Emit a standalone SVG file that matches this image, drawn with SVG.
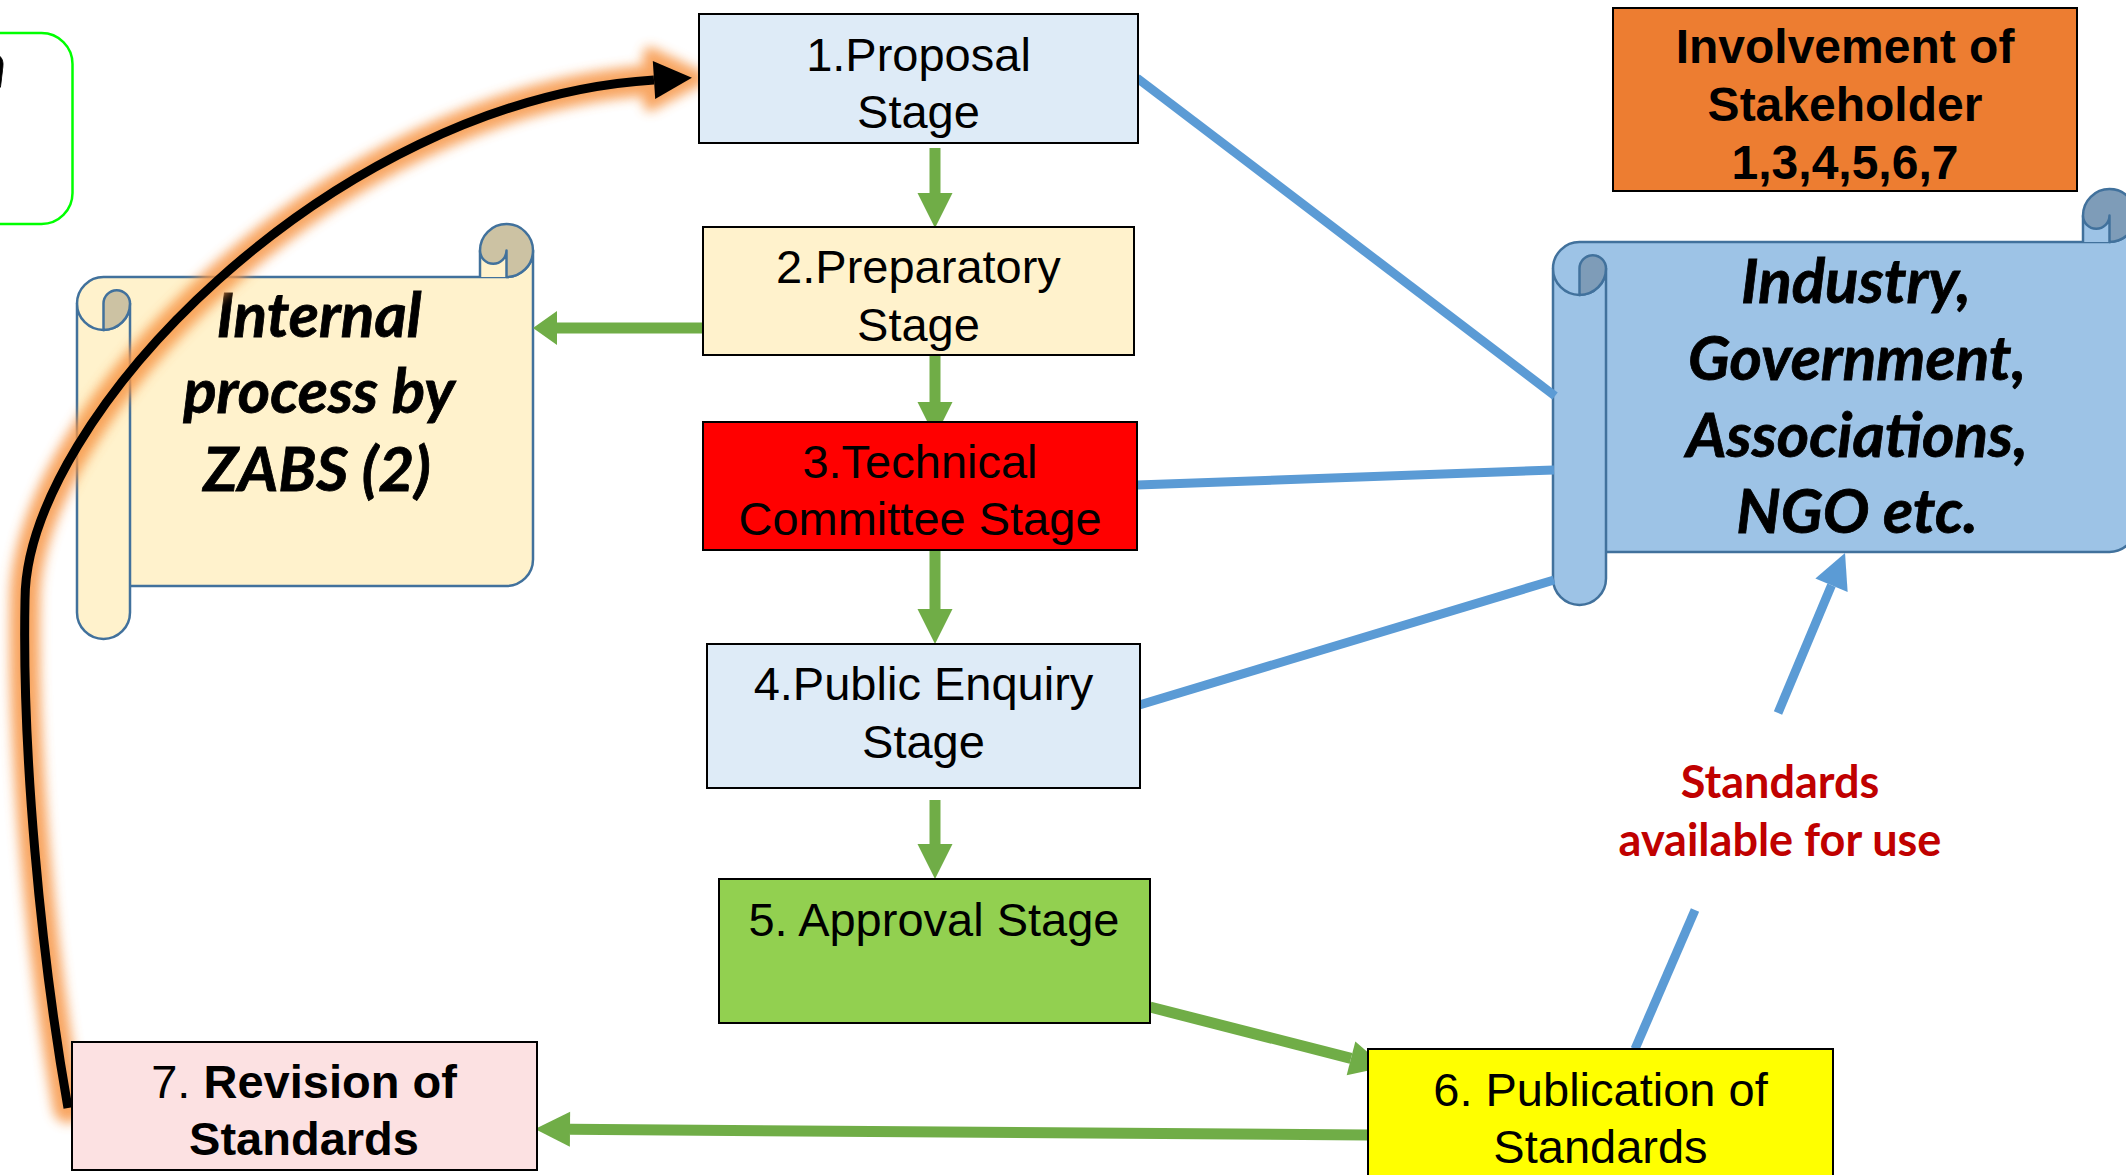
<svg xmlns="http://www.w3.org/2000/svg" xmlns:xlink="http://www.w3.org/1999/xlink" width="2126" height="1175" viewBox="0 0 2126 1175">
  <defs>
    <style>
      .stage { stroke: #000; stroke-width: 2; }
      .stage-text { font-family: "Liberation Sans", Arial, sans-serif; font-size: 47px; fill: #000; text-anchor: middle; }
      .bold { font-weight: bold; }
      .box-text { font-size: 48px; }
      .scroll-text { font-family: Lato, "Open Sans", sans-serif; font-size: 62px; font-weight: bold; font-style: italic; fill: #000; text-anchor: middle; stroke: #000; stroke-width: 0.8; }
      .scroll .outline { stroke: #41719C; stroke-width: 2.5; stroke-linejoin: round; }
      .scroll-yellow .body { fill: #FFF2CC; }
      .scroll-yellow .curl { fill: #CCC2A3; }
      .scroll-blue .body { fill: #9DC3E6; }
      .scroll-blue .curl { fill: #7E9CB8; }
      .flow { stroke: #70AD47; stroke-width: 11; fill: none; }
      .link { stroke: #5B9BD5; stroke-width: 9; fill: none; }
      .note { font-family: Lato, "Open Sans", sans-serif; font-size: 45px; font-weight: bold; fill: #C00000; text-anchor: middle; }
    </style>
    <marker id="greenHead" markerUnits="userSpaceOnUse" markerWidth="36" markerHeight="36" refX="0" refY="17.5" orient="auto" overflow="visible">
      <path d="M0,0 L35,17.5 L0,35 Z" fill="#70AD47"/>
    </marker>
    <marker id="greenHeadShort" markerUnits="userSpaceOnUse" markerWidth="36" markerHeight="36" refX="0" refY="17" orient="auto" overflow="visible">
      <path d="M0,0 L24,17 L0,34 Z" fill="#70AD47"/>
    </marker>
    <marker id="blueHead" markerUnits="userSpaceOnUse" markerWidth="36" markerHeight="36" refX="0" refY="17.5" orient="auto" overflow="visible">
      <path d="M0,0 L35,17.5 L0,35 Z" fill="#5B9BD5"/>
    </marker>
    <marker id="blackHead" markerUnits="userSpaceOnUse" markerWidth="40" markerHeight="40" refX="0" refY="19" orient="auto" overflow="visible">
      <path d="M0,0 L38,19 L0,38 Z" fill="#000"/>
    </marker>
    <filter id="glow" x="-20%" y="-20%" width="140%" height="140%">
      <feGaussianBlur stdDeviation="6"/>
    </filter>
    <path id="returnPath" d="M68,1108 C40,950 22,750 25,600 C25,420 330,100 654,80"/>
  </defs>

  <rect x="0" y="0" width="2126" height="1175" fill="#FFFFFF"/>

  <!-- partly hidden rounded box at the left edge -->
  <g id="edge-box">
    <rect x="-60" y="33" width="132.5" height="191" rx="31" ry="31" fill="none" stroke="#00FF00" stroke-width="2.5"/>
    <text class="scroll-text" x="6" y="87" style="text-anchor:end">n</text>
  </g>

  <!-- scroll: internal process -->
  <g id="internal-process" class="scroll scroll-yellow">
    <path class="body" d="M77,303.5 A26.5,26.5 0 0 1 103.5,277 L506.5,277 A26.5,26.5 0 0 0 533,250.5 L533,559.5 A26.5,26.5 0 0 1 506.5,586 L77,586 Z"/>
    <path class="outline" fill="none" d="M77,303.5 A26.5,26.5 0 0 1 103.5,277 L506.5,277 A26.5,26.5 0 0 0 533,250.5 L533,559.5 A26.5,26.5 0 0 1 506.5,586 L130,586"/>
    <rect class="body" x="480" y="250.5" width="26.5" height="26.5"/>
    <path class="outline" d="M480,277 L480,250.5"/>
    <path class="curl outline" d="M480,250.5 A26.5,26.5 0 0 1 533,250.5 A26.5,26.5 0 0 1 506.5,277 L506.5,250.5 A13.25,13.25 0 0 1 480,250.5 Z"/>
    <path class="body outline" d="M77,303.5 L77,612.5 A26.5,26.5 0 0 0 130,612.5 L130,303.5 A26.5,26.5 0 0 1 77,303.5 Z"/>
    <path class="curl outline" d="M103.5,303.5 A13.25,13.25 0 0 1 130,303.5 A26.5,26.5 0 0 1 103.5,330 Z"/>
    <text class="scroll-text" x="319" y="337">Internal</text>
    <text class="scroll-text" x="319" y="413">process by</text>
    <text class="scroll-text" x="317" y="491">ZABS (2)</text>
  </g>

  <!-- scroll: stakeholders -->
  <g id="stakeholders" class="scroll scroll-blue">
    <path class="body" d="M1553,268.5 A26.5,26.5 0 0 1 1579.5,242 L2109.5,242 A26.5,26.5 0 0 0 2136,215.5 L2136,525.5 A26.5,26.5 0 0 1 2109.5,552 L1553,552 Z"/>
    <path class="outline" fill="none" d="M1553,268.5 A26.5,26.5 0 0 1 1579.5,242 L2109.5,242 A26.5,26.5 0 0 0 2136,215.5 L2136,525.5 A26.5,26.5 0 0 1 2109.5,552 L1606,552"/>
    <rect class="body" x="2083" y="215.5" width="26.5" height="26.5"/>
    <path class="outline" d="M2083,242 L2083,215.5"/>
    <path class="curl outline" d="M2083,215.5 A26.5,26.5 0 0 1 2136,215.5 A26.5,26.5 0 0 1 2109.5,242 L2109.5,215.5 A13.25,13.25 0 0 1 2083,215.5 Z"/>
    <path class="body outline" d="M1553,268.5 L1553,578.5 A26.5,26.5 0 0 0 1606,578.5 L1606,268.5 A26.5,26.5 0 0 1 1553,268.5 Z"/>
    <path class="curl outline" d="M1579.5,268.5 A13.25,13.25 0 0 1 1606,268.5 A26.5,26.5 0 0 1 1579.5,295 Z"/>
    <text class="scroll-text" x="1856" y="303">Industry,</text>
    <text class="scroll-text" x="1857" y="380">Government,</text>
    <text class="scroll-text" x="1857" y="457">Associations,</text>
    <text class="scroll-text" x="1857" y="533">NGO etc.</text>
  </g>

  <!-- stakeholder involvement box -->
  <g id="involvement">
    <rect x="1613" y="8" width="464" height="183" fill="#ED7D31" stroke="#000" stroke-width="2"/>
    <text class="stage-text bold box-text" x="1845" y="63">Involvement of</text>
    <text class="stage-text bold box-text" x="1845" y="121">Stakeholder</text>
    <text class="stage-text bold box-text" x="1845" y="179">1,3,4,5,6,7</text>
  </g>

  <!-- connectors -->
  <g id="connectors">
    <line class="flow" x1="935" y1="148" x2="935" y2="193" marker-end="url(#greenHead)"/>
    <line class="flow" x1="935" y1="355" x2="935" y2="402" marker-end="url(#greenHead)"/>
    <line class="flow" x1="935" y1="550" x2="935" y2="609" marker-end="url(#greenHead)"/>
    <line class="flow" x1="935" y1="800" x2="935" y2="844" marker-end="url(#greenHead)"/>
    <line class="flow" x1="703" y1="328" x2="557" y2="328" marker-end="url(#greenHeadShort)"/>
    <line class="flow" x1="1150" y1="1007" x2="1351" y2="1058.4" marker-end="url(#greenHead)"/>
    <line class="flow" x1="1368" y1="1135" x2="570" y2="1129.3" marker-end="url(#greenHead)"/>

    <line class="link" x1="1137" y1="78" x2="1555" y2="396"/>
    <line class="link" x1="1137" y1="485" x2="1554" y2="470"/>
    <line class="link" x1="1136" y1="706" x2="1554" y2="580"/>
    <line class="link" x1="1635" y1="1049" x2="1695" y2="910"/>
    <line class="link" x1="1778" y1="713" x2="1831.5" y2="585.3" marker-end="url(#blueHead)"/>

    <!-- revision loop back to the proposal stage -->
    <g id="revision-loop">
      <g filter="url(#glow)" opacity="0.85">
        <use xlink:href="#returnPath" fill="none" stroke="#F79646" stroke-width="30" stroke-linecap="round"/>
        <polygon points="650,54 699,78 650,104" fill="#F79646" stroke="#F79646" stroke-width="14" stroke-linejoin="round"/>
      </g>
      <use xlink:href="#returnPath" fill="none" stroke="#000" stroke-width="9" marker-end="url(#blackHead)"/>
    </g>
  </g>

  <!-- stages -->
  <g id="stage-1">
    <rect class="stage" x="699" y="14" width="439" height="129" fill="#DEEBF7"/>
    <text class="stage-text" x="918.5" y="71">1.Proposal</text>
    <text class="stage-text" x="918.5" y="128">Stage</text>
  </g>
  <g id="stage-2">
    <rect class="stage" x="703" y="227" width="431" height="128" fill="#FFF2CC"/>
    <text class="stage-text" x="918.5" y="283">2.Preparatory</text>
    <text class="stage-text" x="918.5" y="341">Stage</text>
  </g>
  <g id="stage-3">
    <rect class="stage" x="703" y="422" width="434" height="128" fill="#FF0000"/>
    <text class="stage-text" x="920" y="478">3.Technical</text>
    <text class="stage-text" x="920" y="535">Committee Stage</text>
  </g>
  <g id="stage-4">
    <rect class="stage" x="707" y="644" width="433" height="144" fill="#DEEBF7"/>
    <text class="stage-text" x="923.5" y="700">4.Public Enquiry</text>
    <text class="stage-text" x="923.5" y="758">Stage</text>
  </g>
  <g id="stage-5">
    <rect class="stage" x="719" y="879" width="431" height="144" fill="#92D050"/>
    <text class="stage-text" x="934" y="936">5. Approval Stage</text>
  </g>
  <g id="stage-6">
    <rect class="stage" x="1368" y="1049" width="465" height="150" fill="#FFFF00"/>
    <text class="stage-text" x="1600.5" y="1106">6. Publication of</text>
    <text class="stage-text" x="1600.5" y="1163">Standards</text>
  </g>
  <g id="stage-7">
    <rect class="stage" x="72" y="1042" width="465" height="128" fill="#FCE1E2"/>
    <text class="stage-text" x="304" y="1098">7. <tspan class="bold">Revision of</tspan></text>
    <text class="stage-text bold" x="304" y="1155">Standards</text>
  </g>

  <!-- label on the publication link -->
  <g id="availability-note">
    <text class="note" x="1780" y="798">Standards</text>
    <text class="note" x="1780" y="856">available for use</text>
  </g>
</svg>
